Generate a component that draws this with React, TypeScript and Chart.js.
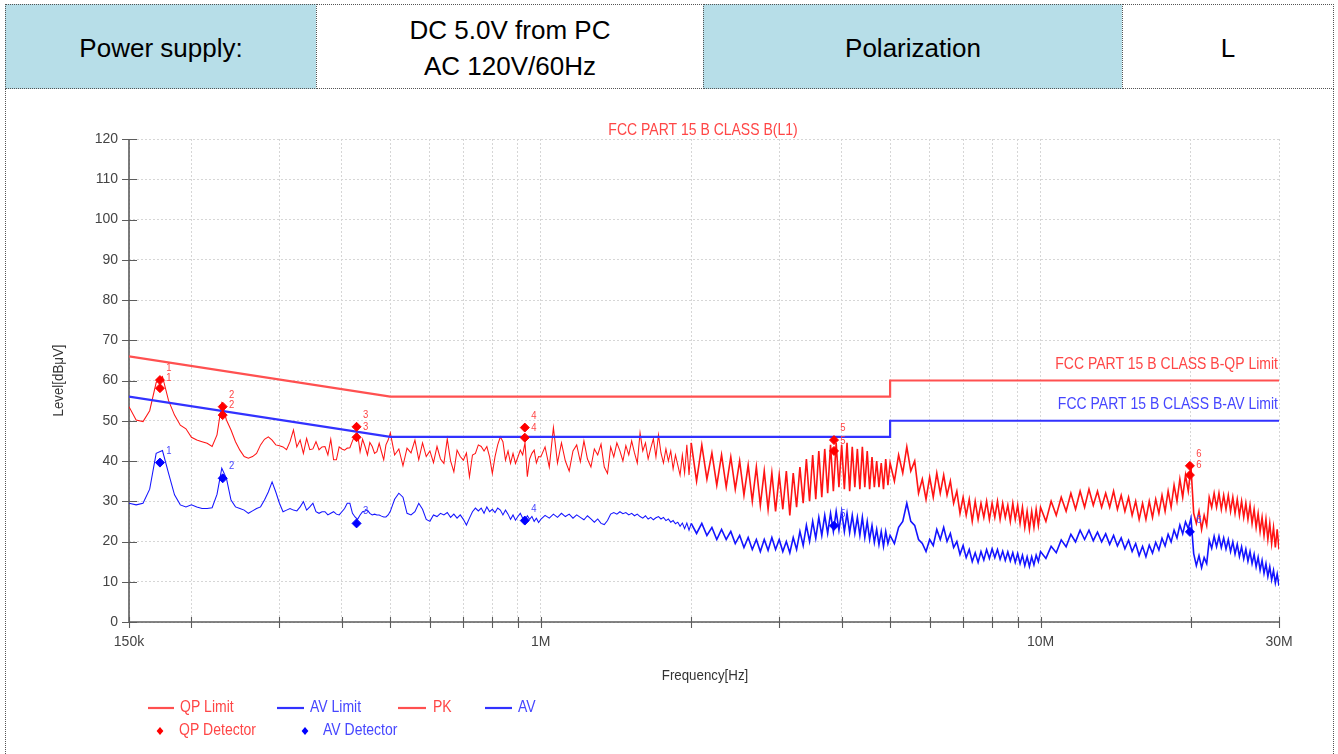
import React, { useEffect, useRef } from 'react';
import { Chart, registerables } from 'chart.js';

Chart.register(...registerables);

const PAGE_W = 1338;
const PAGE_H = 754;

// ---------------- header table ----------------
const HEADER_CELLS = ['Power supply:', 'DC 5.0V from PC|AC 120V/60Hz', 'Polarization', 'L'];

// ---------------- chart texts ----------------
const CHART_TITLE = 'FCC PART 15 B CLASS B(L1)';
const QP_LIMIT_NAME = 'FCC PART 15 B CLASS B-QP Limit';
const AV_LIMIT_NAME = 'FCC PART 15 B CLASS B-AV Limit';
const X_TITLE = 'Frequency[Hz]';
const Y_TITLE = 'Level[dB\u03bcV]';
const LEGEND_LABELS = ['QP Limit', 'AV Limit', 'PK', 'AV', 'QP Detector', 'AV Detector'];

// ---------------- axes ----------------
const X_MIN_KHZ = 150;
const X_MAX_KHZ = 30000;
const X_TICKS_KHZ = [150, 200, 300, 400, 500, 600, 700, 800, 900, 1000, 2000, 3000, 4000, 5000, 6000, 7000, 8000, 9000, 10000, 20000, 30000];
const X_LABEL_VALUES = [150, 1000, 10000, 30000];
const X_LABEL_TEXTS = ['150k', '1M', '10M', '30M'];
const Y_MIN = 0;
const Y_MAX = 120;
const Y_STEP = 10;

// ---------------- limits (kHz / dBuV) ----------------
const LIMIT_FREQ_KHZ = [150, 500, 5000, 5000, 30000];
const QP_LIMIT = [66, 56, 56, 60, 60];
const AV_LIMIT = [56, 46, 46, 50, 50];

// ---------------- detector markers ----------------
const MARKER_NO = ['1', '2', '3', '4', '5', '6'];
const MARKER_FREQ_KHZ = [173, 231, 428, 929, 3861, 19900];
const QP_DET_A = [60.1, 53.5, 48.5, 48.3, 45.2, 38.8];
const QP_DET_B = [58.1, 51.4, 45.9, 45.8, 42.5, 36.5];
const AV_DET = [39.6, 35.7, 24.5, 25.2, 23.9, 22.4];

// ---------------- traces (kHz / dBuV) ----------------
const FREQ_A = [
  150, 155, 160, 165, 170, 175, 180, 185, 190, 195,
  200, 205, 210, 215, 220, 225, 230, 235, 240, 245,
  250, 255, 260, 265, 270, 275, 280, 285, 290, 295,
  300, 305, 310, 315, 320, 325, 330, 335, 340, 345,
  350, 355, 360, 365, 370, 375, 380, 385, 390, 395,
  400, 405, 410, 415, 420, 425, 430, 435, 440, 445,
  450, 455, 460, 465, 470, 475, 480, 485, 490, 495,
];
const PK_A = [
  53.5, 50.2, 49.8, 52.5, 59.5, 61, 55, 51.4, 48.9, 48,
  45.9, 45.2, 44.8, 44.4, 43.6, 46.5, 54.3, 50.2, 47.7, 44.8,
  42.7, 41.1, 40.7, 41.1, 41.9, 44, 45.4, 46, 45.2, 44,
  43.8, 43.5, 42.8, 44.8, 47.7, 43.5, 45.2, 41.9, 45.6, 42.8,
  43, 44.8, 42.8, 43.5, 43.6, 41.5, 45.4, 40.3, 40.3, 43.5,
  43, 42.7, 43.2, 43.3, 45, 46.4, 46.8, 42.3, 45.4, 43.6,
  41.5, 44.6, 43.6, 41.9, 42.3, 44.4, 42.3, 40.3, 44, 45.2,
];
const AV_A = [
  29.5, 29.1, 29.5, 33, 41.9, 42.6, 36.9, 31.6, 29.1, 28.6,
  29.1, 28.6, 28.2, 28.2, 28.4, 31.7, 38.2, 35.7, 30.3, 28.6,
  28.2, 27.8, 27, 27.6, 28.2, 28.6, 30.3, 32.3, 34.8, 32.3,
  29.5, 27.4, 27.8, 28.2, 27.8, 27.6, 28.6, 29.9, 27.8, 28.6,
  29.5, 27.4, 27, 27.4, 27.4, 26.6, 27, 27.4, 26.8, 26.6,
  27.4, 28.2, 29.5, 29.5, 27, 26.1, 25.5, 26.6, 27.4, 27.6,
  27.8, 27, 26.6, 26.8, 26.6, 26.6, 26.3, 26.1, 26.1, 26.6,
];

const FREQ_B = [
  500, 510, 520, 530, 540, 550, 560, 570, 580, 590,
  600, 610, 620, 630, 640, 650, 660, 670, 680, 690,
  700, 710, 720, 730, 740, 750, 760, 770, 780, 790,
  800, 810, 820, 830, 840, 850, 860, 870, 880, 890,
  900, 910, 920, 930, 940, 950, 960, 970, 980, 990,
];
const PK_B = [
  47, 41.5, 43, 38.8, 43.2, 42, 45.2, 40.3, 44.5, 41.1,
  42.5, 39.6, 43.6, 40.5, 39.4, 45.5, 40, 37.3, 42.7, 41.1,
  40.2, 42, 36.1, 41.5, 41.9, 44, 43.6, 42.5, 43.6, 41,
  36.9, 41.1, 44, 46, 44.8, 40.2, 42.5, 39.4, 41.9, 39.4,
  41, 42.7, 41.5, 44.5, 36.1, 40.5, 41.9, 42.7, 39.5, 41.1,
];
const AV_B = [
  27.5, 30.5, 32, 31, 27, 26.6, 27.4, 29.5, 28, 25.5,
  25, 26.6, 26.2, 27, 26.6, 27.2, 26, 26.8, 25.8, 26.6,
  25.5, 24.1, 25.8, 27.4, 28.3, 27.6, 28.3, 27, 28.6, 27.4,
  28, 27.2, 28.3, 27.8, 26.6, 27.8, 26.8, 25.5, 26.6, 25.3,
  26.2, 27, 25.8, 25.3, 26.4, 25.5, 26.2, 25, 25.8, 24.7,
];

const FREQ_C = [
  1000, 1020, 1040, 1060, 1080, 1100, 1120, 1140, 1160, 1180,
  1200, 1220, 1240, 1260, 1280, 1300, 1320, 1340, 1360, 1380,
  1400, 1420, 1440, 1460, 1480, 1500, 1520, 1540, 1560, 1580,
  1600, 1620, 1640, 1660, 1680, 1700, 1720, 1740, 1760, 1780,
  1800, 1820, 1840, 1860, 1880, 1900, 1920, 1940, 1960, 1980,
];
const PK_C = [
  41, 43.5, 38.5, 48.3, 39.5, 44.5, 40, 37.5, 42.5, 44,
  39.8, 45, 40.5, 38.5, 43, 41.5, 44.2, 38.5, 36.9, 43.5,
  41, 44.5, 42.5, 40, 43.8, 41.5, 45, 42, 39.5, 47,
  42.5, 44.5, 40.5, 43.2, 45.5, 41, 46.5, 42, 39.5, 43,
  40, 42.5, 38, 41.5, 39, 36.5, 41.5, 37, 44, 36.5,
];
const AV_C = [
  25.5, 26.5, 25.8, 26.8, 26, 27, 26.2, 26.8, 25.8, 26.6,
  26, 25.4, 26.4, 25.6, 24.8, 25.6, 24.5, 24.2, 25.2, 26.8,
  27.2, 26.8, 27.4, 26.9, 27.2, 26.6, 27, 26.4, 26.8, 26.2,
  25.8, 26.4, 25.6, 26, 25.4, 25.9, 26.2, 25.6, 26, 25.2,
  25.6, 24.8, 25.2, 24.4, 24.8, 23.8, 24.6, 23.2, 24.6, 22.8,
];

const FREQ_D = [
  2000, 2050, 2100, 2150, 2200, 2250, 2300, 2350, 2400, 2450,
  2500, 2550, 2600, 2650, 2700, 2750, 2800, 2850, 2900, 2950,
  3000, 3050, 3100, 3150, 3200, 3250, 3300, 3350, 3400, 3450,
  3500, 3550, 3600, 3650, 3700, 3750, 3800, 3850, 3900, 3950,
  4000, 4050, 4100, 4150, 4200, 4250, 4300, 4350, 4400, 4450,
  4500, 4550, 4600, 4650, 4700, 4750, 4800, 4850, 4900, 4950,
];
const PK_D = [
  44.5, 35, 44, 35.5, 42, 34, 41.5, 33.5, 41, 33,
  40, 31.5, 39, 30, 38.5, 29, 37.5, 28, 37, 27.5,
  36.5, 28, 37.5, 26.5, 37, 28.5, 38.5, 29.5, 40.5, 30,
  41.5, 30.5, 42.5, 31, 43, 32, 44, 32.5, 44.5, 33.5,
  44, 33, 44.5, 32.5, 43.5, 33.5, 43, 33, 43.5, 33.5,
  42.5, 33, 41, 33.5, 40, 33.5, 39.5, 33, 40.5, 34,
];
const AV_D = [
  24.5, 22, 24.5, 21.5, 23.5, 20.5, 23, 20.5, 22.5, 19.5,
  21.5, 18.5, 21, 18, 20.5, 17.5, 20.5, 17.8, 21, 18,
  20.5, 17.5, 20, 17.2, 21, 18, 22.5, 19, 24, 20,
  25, 20.8, 26, 21.5, 26.5, 22, 27, 22.5, 27.5, 22.8,
  27.5, 22.5, 27, 22.2, 26.5, 22, 26, 21.5, 26, 21,
  25, 20.5, 24, 19.8, 23, 19.2, 22.5, 18.8, 22.5, 19.5,
];

const FREQ_E = [
  5000, 5100, 5200, 5300, 5400, 5500, 5600, 5700, 5800, 5900,
  6000, 6100, 6200, 6300, 6400, 6500, 6600, 6700, 6800, 6900,
  7000, 7100, 7200, 7300, 7400, 7500, 7600, 7700, 7800, 7900,
  8000, 8100, 8200, 8300, 8400, 8500, 8600, 8700, 8800, 8900,
  9000, 9100, 9200, 9300, 9400, 9500, 9600, 9700, 9800, 9900,
];
const PK_E = [
  39.5, 35, 41.5, 37, 43.5, 37.5, 40, 32, 35.5, 30.5,
  36, 31, 37, 32, 36.5, 31.5, 35, 29.5, 32.5, 27,
  31, 26.5, 30.5, 25, 30, 25.5, 29.5, 26, 30, 25.5,
  29.5, 26, 30, 25.5, 29.5, 26, 29, 25, 29.5, 25.5,
  29, 24.5, 28.5, 23.5, 27.5, 23, 27.5, 23.5, 28, 24,
];
const AV_E = [
  21.5, 19.5, 23.5, 25, 29.5, 25, 24, 20.5, 19.5, 17.5,
  20.5, 19, 23, 20.5, 23.5, 20, 22, 18.5, 20, 16.8,
  19, 16, 18, 15, 17.2, 14.8, 17.5, 15.4, 18, 15.8,
  18.2, 16, 18, 15.6, 17.6, 15.3, 17.4, 15.2, 17.2, 14.8,
  17, 14.5, 16.6, 14, 16.2, 13.8, 16.2, 14.2, 16.6, 15,
];

const FREQ_F = [
  10000, 10250, 10500, 10750, 11000, 11250, 11500, 11750, 12000, 12250,
  12500, 12750, 13000, 13250, 13500, 13750, 14000, 14250, 14500, 14750,
  15000, 15250, 15500, 15750, 16000, 16250, 16500, 16750, 17000, 17250,
  17500, 17750, 18000, 18250, 18500, 18750, 19000, 19250, 19500, 19750,
  20000, 20250, 20500, 20750, 21000, 21250, 21500, 21750, 22000, 22250,
  22500, 22750, 23000, 23250, 23500, 23750, 24000, 24250, 24500, 24750,
  25000, 25250, 25500, 25750, 26000, 26250, 26500, 26750, 27000, 27250,
  27500, 27750, 28000, 28250, 28500, 28750, 29000, 29250, 29500, 29750,
  30000,
];
const PK_F = [
  28.5, 25, 30, 26.5, 31, 27.5, 32, 28, 32.5, 28.5,
  33, 29, 32.5, 28.5, 32, 28.5, 32.5, 28, 31.5, 27.5,
  31, 26.5, 30, 25.5, 29.5, 25.5, 30, 26, 30.5, 27,
  31.5, 27.5, 32.5, 28.5, 34, 30, 35.5, 31, 36.5, 32.5,
  38.5, 27, 24.5, 27.5, 23, 26.5, 24, 31, 28.5, 32,
  28.5, 32, 28, 31.5, 28, 31.5, 27.5, 31, 27, 30.5,
  26.5, 30, 26, 29.5, 25.5, 29, 24.5, 28, 23.5, 27,
  22.5, 26, 21.5, 25.5, 20.5, 24.5, 19.5, 23.5, 18.5, 23,
  18,
];
const AV_F = [
  17.5, 15.8, 18.8, 17.2, 20.4, 18.7, 21.8, 19.9, 22.8, 20.5,
  22.8, 20.2, 22.3, 19.9, 21.9, 19.3, 21.5, 18.9, 20.9, 18.2,
  20.3, 17.5, 19.5, 16.5, 18.8, 16.2, 19.1, 17.1, 19.8, 17.9,
  20.8, 18.9, 21.8, 19.9, 22.8, 20.9, 24.1, 21.9, 24.9, 23.2,
  25.8, 17, 14, 16.5, 13.5, 16, 14.5, 20.3, 18.3, 21.3,
  18.7, 21.3, 18.5, 20.9, 18.1, 20.5, 17.5, 19.9, 16.9, 19.3,
  16.3, 18.7, 15.7, 18.1, 15.1, 17.5, 14.5, 16.8, 13.7, 16.1,
  12.9, 15.3, 12.1, 14.5, 11.3, 13.7, 10.5, 12.8, 9.7, 11.9,
  9,
];

const FREQ_KHZ = [...FREQ_A, ...FREQ_B, ...FREQ_C, ...FREQ_D, ...FREQ_E, ...FREQ_F];
const PK_LEVEL = [...PK_A, ...PK_B, ...PK_C, ...PK_D, ...PK_E, ...PK_F];
const AV_LEVEL = [...AV_A, ...AV_B, ...AV_C, ...AV_D, ...AV_E, ...AV_F];

// ---------------- colours ----------------
const RED_LIMIT = 'rgb(255,80,80)';
const BLUE_LIMIT = 'rgb(50,50,255)';
const RED_TRACE = 'rgb(255,20,20)';
const BLUE_TRACE = 'rgb(20,20,255)';
const RED_TEXT = 'rgb(255,70,70)';
const BLUE_TEXT = 'rgb(70,70,255)';
const LIGHT_BLUE = '#b7dee8';
const DENSE_FROM_KHZ = 2000;

type Fnt = { family: string; size: number; sy: number };

function detectFont(): Fnt {
  const c = document.createElement('canvas').getContext('2d');
  const probe = 'Frequency Level 0123456789 QP Limit';
  if (c) {
    c.font = '40px monospace';
    const a = c.measureText(probe).width;
    c.font = '40px "Liberation Sans Narrow", monospace';
    const b = c.measureText(probe).width;
    if (Math.abs(a - b) > 0.5) {
      return { family: '"Liberation Sans Narrow", "Liberation Sans", Arial, sans-serif', size: 16.5, sy: 1 };
    }
  }
  return { family: '"Liberation Sans", Arial, sans-serif', size: 14, sy: 1.15 };
}

function pts(xs: number[], ys: number[]) {
  return xs.map((x, i) => ({ x, y: ys[i] }));
}

function drawText(ctx: CanvasRenderingContext2D, f: Fnt, text: string, x: number, y: number, color: string,
  align: CanvasTextAlign = 'left', rot = 0, mul = 1) {
  ctx.save();
  ctx.translate(x, y);
  if (rot) ctx.rotate(rot);
  ctx.scale(1, f.sy);
  ctx.font = `${f.size * mul}px ${f.family}`;
  ctx.fillStyle = color;
  ctx.textAlign = align;
  ctx.textBaseline = 'middle';
  ctx.fillText(text, 0, 0);
  ctx.restore();
}

function diamond(ctx: CanvasRenderingContext2D, x: number, y: number, r: number, color: string) {
  ctx.beginPath();
  ctx.moveTo(x, y - r);
  ctx.lineTo(x + r * 0.85, y);
  ctx.lineTo(x, y + r);
  ctx.lineTo(x - r * 0.85, y);
  ctx.closePath();
  ctx.fillStyle = color;
  ctx.fill();
}

function makeOverlay(f: Fnt) {
  return {
    id: 'emiOverlay',
    beforeDatasetsDraw(chart: any) {
      const { ctx, chartArea: a, scales } = chart;
      const xs = scales.x;
      const ys = scales.y;
      ctx.save();
      ctx.strokeStyle = '#5c5c5c';
      ctx.lineWidth = 1.6;
      ctx.beginPath();
      ctx.moveTo(a.left, a.top);
      ctx.lineTo(a.left, a.bottom);
      ctx.lineTo(a.right, a.bottom);
      ctx.stroke();
      ctx.lineWidth = 1.1;
      ctx.beginPath();
      for (const t of ys.ticks) {
        const py = Math.round(ys.getPixelForValue(t.value)) + 0.5;
        ctx.moveTo(a.left - 7, py);
        ctx.lineTo(a.left + 8, py);
      }
      for (const t of xs.ticks) {
        const px = Math.round(xs.getPixelForValue(t.value)) + 0.5;
        ctx.moveTo(px, a.bottom - 5);
        ctx.lineTo(px, a.bottom + 6);
      }
      ctx.stroke();
      ctx.restore();
    },
    afterDraw(chart: any) {
      const { ctx, chartArea: a, scales } = chart;
      const xs = scales.x;
      const ys = scales.y;
      ctx.save();
      drawText(ctx, f, CHART_TITLE, (a.left + a.right) / 2 - 1, a.top - 8, RED_TEXT, 'center');
      drawText(ctx, f, QP_LIMIT_NAME, a.right - 1, ys.getPixelForValue(QP_LIMIT[QP_LIMIT.length - 1]) - 16, RED_TEXT, 'right');
      drawText(ctx, f, AV_LIMIT_NAME, a.right - 1, ys.getPixelForValue(AV_LIMIT[AV_LIMIT.length - 1]) - 16, BLUE_TEXT, 'right');
      drawText(ctx, f, Y_TITLE, 59, (a.top + a.bottom) / 2, '#333', 'center', -Math.PI / 2, 0.95);
      drawText(ctx, f, X_TITLE, (a.left + a.right) / 2 + 1, a.bottom + 54, '#333', 'center', 0, 0.95);
      MARKER_FREQ_KHZ.forEach((fr, i) => {
        const px = xs.getPixelForValue(fr);
        drawText(ctx, f, MARKER_NO[i], px + 9, ys.getPixelForValue(QP_DET_A[i]) - 12, RED_TEXT, 'center', 0, 0.68);
        drawText(ctx, f, MARKER_NO[i], px + 9, ys.getPixelForValue(QP_DET_B[i]) - 10, RED_TEXT, 'center', 0, 0.68);
        drawText(ctx, f, MARKER_NO[i], px + 9, ys.getPixelForValue(AV_DET[i]) - 12, BLUE_TEXT, 'center', 0, 0.68);
      });
      const row1 = 708;
      const row2 = 731;
      const lineItems = [
        { x0: 148, x1: 174, tx: 180, color: RED_LIMIT, text: RED_TEXT },
        { x0: 277, x1: 304, tx: 310, color: BLUE_LIMIT, text: BLUE_TEXT },
        { x0: 398, x1: 426, tx: 433, color: RED_LIMIT, text: RED_TEXT },
        { x0: 485, x1: 512, tx: 518, color: BLUE_LIMIT, text: BLUE_TEXT },
      ];
      lineItems.forEach((it, i) => {
        ctx.strokeStyle = it.color;
        ctx.lineWidth = 2.2;
        ctx.beginPath();
        ctx.moveTo(it.x0, row1);
        ctx.lineTo(it.x1, row1);
        ctx.stroke();
        drawText(ctx, f, LEGEND_LABELS[i], it.tx, row1, it.text, 'left');
      });
      diamond(ctx, 160, row2, 4, '#ff0000');
      drawText(ctx, f, LEGEND_LABELS[4], 179, row2, RED_TEXT, 'left');
      diamond(ctx, 305, row2, 4, '#0000ff');
      drawText(ctx, f, LEGEND_LABELS[5], 323, row2, BLUE_TEXT, 'left');
      ctx.restore();
    },
  };
}

export default function App() {
  const ref = useRef<HTMLCanvasElement | null>(null);

  useEffect(() => {
    const canvas = ref.current;
    if (!canvas) return;
    const f = detectFont();
    const tickFont = { family: f.family, size: f.size };
    const qpDet = MARKER_FREQ_KHZ.flatMap((fr, i) => [{ x: fr, y: QP_DET_A[i] }, { x: fr, y: QP_DET_B[i] }]);
    const avDet = pts(MARKER_FREQ_KHZ, AV_DET);
    const denseWidth = (c: any) => (c.p0.parsed.x >= DENSE_FROM_KHZ ? 1.6 : 1.05);

    const chart = new Chart(canvas, {
      type: 'line',
      data: {
        datasets: [
          {
            label: 'QP Detector', data: qpDet, showLine: false, pointStyle: 'rectRot', pointRadius: 4.5,
            pointBackgroundColor: '#ff0000', pointBorderColor: '#ff0000', borderColor: '#ff0000', backgroundColor: '#ff0000', order: 0,
          },
          {
            label: 'AV Detector', data: avDet, showLine: false, pointStyle: 'rectRot', pointRadius: 4.5,
            pointBackgroundColor: '#0000ff', pointBorderColor: '#0000ff', borderColor: '#0000ff', backgroundColor: '#0000ff', order: 0,
          },
          {
            label: 'QP Limit', data: pts(LIMIT_FREQ_KHZ, QP_LIMIT), borderColor: RED_LIMIT, borderWidth: 2.2,
            pointRadius: 0, fill: false, tension: 0, order: 1,
          },
          {
            label: 'AV Limit', data: pts(LIMIT_FREQ_KHZ, AV_LIMIT), borderColor: BLUE_LIMIT, borderWidth: 2.2,
            pointRadius: 0, fill: false, tension: 0, order: 1,
          },
          {
            label: 'PK', data: pts(FREQ_KHZ, PK_LEVEL), borderColor: RED_TRACE, borderWidth: 1.05,
            pointRadius: 0, fill: false, tension: 0, order: 2, segment: { borderWidth: denseWidth },
          },
          {
            label: 'AV', data: pts(FREQ_KHZ, AV_LEVEL), borderColor: BLUE_TRACE, borderWidth: 1.05,
            pointRadius: 0, fill: false, tension: 0, order: 2, segment: { borderWidth: denseWidth },
          },
        ],
      },
      options: {
        animation: false,
        responsive: false,
        maintainAspectRatio: false,
        events: [],
        layout: { padding: { left: 0, top: 139, right: 59, bottom: 92 } },
        plugins: { legend: { display: false }, tooltip: { enabled: false }, title: { display: false } },
        scales: {
          x: {
            type: 'logarithmic',
            min: X_MIN_KHZ,
            max: X_MAX_KHZ,
            afterBuildTicks: (s: any) => { s.ticks = X_TICKS_KHZ.map((v) => ({ value: v })); },
            afterFit: (s: any) => { s.height = 40; },
            grid: { color: '#d6d6d6', lineWidth: 1, drawTicks: false },
            border: { display: false, dash: [2, 2] },
            ticks: {
              autoSkip: false, maxRotation: 0, minRotation: 0, padding: 12, color: '#444', font: tickFont,
              callback: (v: any) => {
                const i = X_LABEL_VALUES.indexOf(Number(v));
                return i >= 0 ? X_LABEL_TEXTS[i] : '';
              },
            },
          },
          y: {
            type: 'linear',
            min: Y_MIN,
            max: Y_MAX,
            afterFit: (s: any) => { s.width = 129; },
            grid: { color: '#d6d6d6', lineWidth: 1, drawTicks: false },
            border: { display: false, dash: [2, 2] },
            ticks: { stepSize: Y_STEP, padding: 11, color: '#444', font: tickFont },
          },
        },
      } as any,
      plugins: [makeOverlay(f)],
    } as any);

    return () => chart.destroy();
  }, []);

  const border = '1px dotted #555';
  const cell = (left: number, width: number, bg: string): React.CSSProperties => ({
    position: 'absolute', left, top: 4, width, height: 85, boxSizing: 'border-box', border, background: bg,
    display: 'flex', flexDirection: 'column', alignItems: 'center', justifyContent: 'center',
    fontSize: 26, lineHeight: '36px', paddingTop: 2,
  });
  const lines = (s: string) => s.split('|').map((t, i) => <div key={i}>{t}</div>);

  return (
    <div style={{
      position: 'absolute', left: 0, top: 0, width: PAGE_W, height: PAGE_H, overflow: 'hidden', background: '#fff',
      fontFamily: '"Liberation Sans", Arial, sans-serif', color: '#000',
    }}>
      <div style={cell(5, 312, LIGHT_BLUE)}>{lines(HEADER_CELLS[0])}</div>
      <div style={cell(316, 388, '#fff')}>{lines(HEADER_CELLS[1])}</div>
      <div style={cell(703, 420, LIGHT_BLUE)}>{lines(HEADER_CELLS[2])}</div>
      <div style={cell(1122, 212, '#fff')}>{lines(HEADER_CELLS[3])}</div>
      <div style={{ position: 'absolute', left: 5, top: 88, width: 1329, height: 700, boxSizing: 'border-box', borderLeft: border, borderRight: border }} />
      <canvas ref={ref} width={PAGE_W} height={PAGE_H} style={{ position: 'absolute', left: 0, top: 0, width: PAGE_W, height: PAGE_H }} />
    </div>
  );
}
